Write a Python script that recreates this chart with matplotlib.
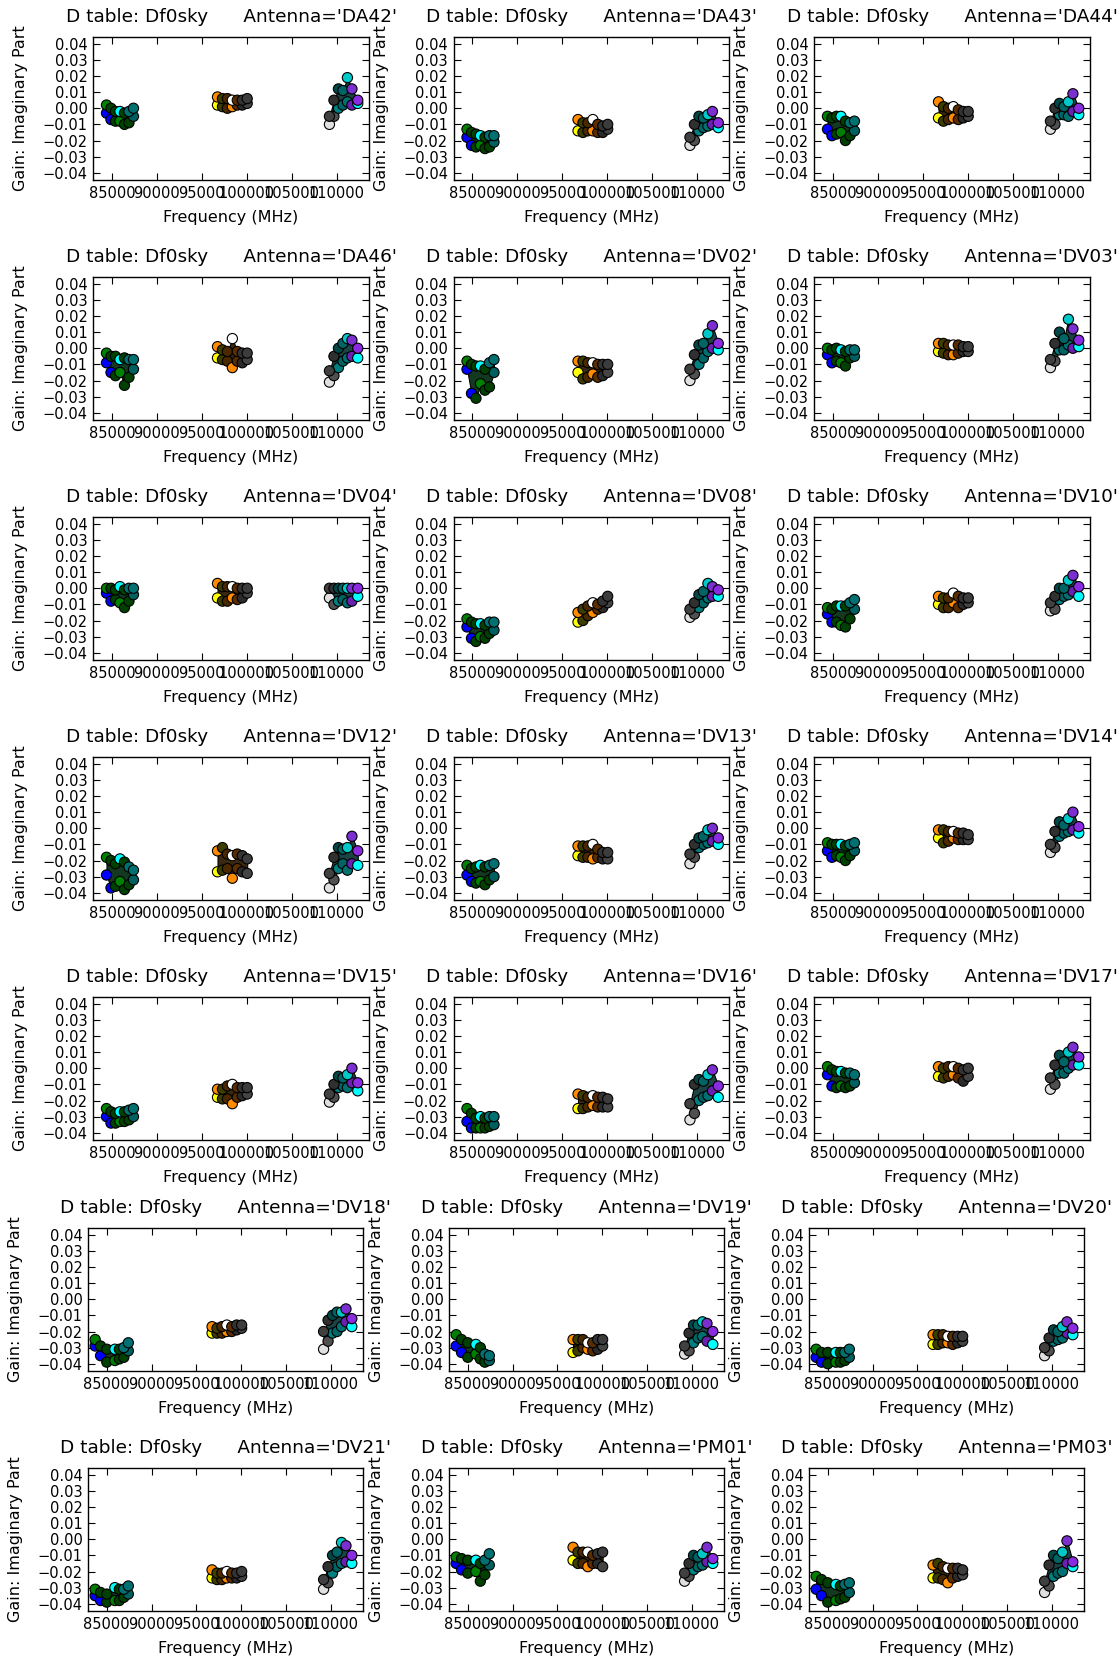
import matplotlib
matplotlib.use("Agg")
import matplotlib.pyplot as plt
from matplotlib.ticker import FuncFormatter

ANTENNAS = ["DA42", "DA43", "DA44", "DA46", "DV02", "DV03", "DV04",
            "DV08", "DV10", "DV12", "DV13", "DV14", "DV15", "DV16",
            "DV17", "DV18", "DV19", "DV20", "DV21", "PM01", "PM03"]

# channel groups (MHz) of the three frequency clusters
FREQ_A = [84400, 84900, 85400, 85900, 86400, 86900, 87400]
FREQ_A_LATE = [83700, 84300, 85000, 85900, 86400, 86900, 87400]
FREQ_B = [96750, 97300, 97850, 98400, 98950, 99500, 100050]
FREQ_C = [109200, 109700, 110200, 110700, 111200, 111700, 112350]

# imaginary part (units of 1e-3): upper and lower edge of each cluster
A_HI = [[2, 0, -2, -2, -3, -2, 0], [-13, -15, -16, -17, -18, -17, -17],
        [-5, -6, -5, -5, -8, -9, -8], [-3, -5, -5, -7, -6, -7, -7],
        [-8, -10, -11, -11, -13, -9, -7], [0, -1, 0, -1, -2, -1, -1],
        [0, 0, -1, 1, -1, 0, 0], [-19, -21, -22, -22, -23, -21, -21],
        [-12, -13, -11, -11, -11, -9, -7], [-18, -20, -22, -19, -21, -24, -26],
        [-23, -25, -24, -23, -24, -23, -22], [-9, -10, -10, -10, -11, -10, -9],
        [-25, -27, -28, -27, -27, -26, -25], [-25, -28, -31, -30, -31, -30, -30],
        [1, -1, -2, -2, -3, -3, -4], [-25, -29, -31, -31, -31, -30, -27],
        [-22, -25, -27, -28, -30, -34, -35], [-31, -33, -33, -33, -33, -33, -31],
        [-31, -33, -34, -30, -31, -31, -29], [-11, -12, -13, -13, -15, -13, -9],
        [-23, -25, -27, -28, -29, -28, -27]]
A_LO = [[-3, -7, -8, -8, -10, -9, -5], [-18, -23, -24, -23, -25, -24, -21],
        [-13, -17, -16, -15, -20, -17, -14], [-9, -15, -17, -15, -23, -18, -13],
        [-13, -28, -31, -22, -26, -24, -15], [-4, -9, -8, -9, -11, -6, -5],
        [-3, -8, -7, -9, -12, -8, -4], [-24, -31, -33, -30, -31, -28, -26],
        [-16, -21, -21, -23, -24, -19, -13], [-29, -37, -36, -33, -38, -35, -32],
        [-29, -33, -34, -33, -35, -32, -30], [-14, -18, -17, -18, -20, -17, -14],
        [-30, -34, -34, -33, -33, -32, -30], [-33, -37, -37, -37, -37, -36, -35],
        [-4, -11, -12, -11, -12, -11, -9], [-29, -35, -39, -38, -37, -36, -32],
        [-29, -33, -36, -34, -37, -39, -38], [-36, -39, -40, -39, -39, -38, -36],
        [-35, -38, -39, -38, -38, -36, -34], [-15, -19, -21, -20, -26, -22, -16],
        [-31, -35, -39, -38, -37, -36, -33]]
B_HI = [[7, 6, 6, 5, 5, 5, 6], [-7, -9, -9, -7, -10, -11, -10],
        [4, 1, 0, 1, -1, -2, -2], [1, -1, -2, 6, -2, -3, -3],
        [-8, -8, -9, -9, -10, -10, -10], [3, 3, 2, 2, 2, 1, 1],
        [3, 1, 1, 1, 0, 0, 0], [-15, -13, -11, -9, -10, -8, -5],
        [-5, -6, -6, -3, -5, -6, -6], [-14, -12, -16, -17, -16, -17, -19],
        [-11, -11, -11, -10, -13, -15, -15], [-1, -1, -2, -2, -3, -3, -4],
        [-13, -13, -11, -10, -12, -12, -12], [-16, -17, -18, -17, -18, -18, -19],
        [1, 0, 1, 1, 0, -1, 0], [-17, -18, -17, -16, -17, -16, -16],
        [-25, -25, -25, -27, -27, -25, -25], [-22, -22, -22, -23, -23, -23, -23],
        [-19, -21, -21, -20, -21, -21, -20], [-5, -8, -8, -8, -10, -9, -8],
        [-16, -15, -17, -18, -18, -18, -19]]
B_LO = [[2, 1, 0, 1, 2, 2, 3], [-14, -15, -14, -14, -15, -15, -13],
        [-6, -8, -7, -6, -7, -6, -5], [-6, -7, -8, -12, -8, -9, -7],
        [-15, -19, -18, -16, -18, -17, -15], [-2, -3, -4, -4, -3, -2, -2],
        [-6, -8, -8, -6, -7, -6, -3], [-21, -20, -17, -15, -13, -12, -9],
        [-10, -12, -12, -9, -12, -10, -9], [-27, -26, -25, -31, -25, -27, -28],
        [-17, -18, -18, -19, -18, -19, -19], [-6, -9, -8, -6, -7, -7, -7],
        [-18, -19, -19, -22, -18, -17, -16], [-25, -25, -24, -23, -24, -24, -24],
        [-5, -6, -5, -4, -6, -8, -5], [-21, -21, -21, -20, -20, -19, -18],
        [-33, -32, -30, -31, -32, -31, -29], [-28, -28, -27, -27, -28, -27, -26],
        [-24, -25, -25, -24, -24, -24, -23], [-13, -15, -15, -17, -15, -15, -17],
        [-24, -24, -25, -27, -24, -23, -22]]
C_HI = [[-5, 5, 12, 11, 19, 12, 5], [-18, -10, -5, -6, -4, -2, -9],
        [-8, 0, 3, 1, 4, 9, 0], [-14, -5, 0, 3, 6, 5, 0],
        [-13, -4, 2, 3, 9, 14, 3], [-7, 3, 10, 6, 18, 12, 5],
        [0, 0, 0, 0, 0, 0, 0], [-13, -9, -4, -2, 3, 1, -1],
        [-9, -5, 0, 0, 5, 8, 1], [-28, -18, -12, -13, -12, -5, -14],
        [-16, -10, -6, -5, -1, 0, -6], [-10, -2, 4, 2, 6, 10, 1],
        [-16, -10, -5, -6, -4, 0, -9], [-22, -10, -7, -8, -4, -1, -11],
        [-6, 2, 8, 4, 10, 13, 7], [-20, -13, -10, -8, -8, -6, -12],
        [-29, -21, -16, -16, -14, -15, -20], [-30, -24, -19, -20, -17, -14, -18],
        [-25, -17, -10, -8, -2, -4, -10], [-21, -15, -10, -11, -9, -5, -12],
        [-26, -16, -10, -12, -8, -1, -14]]
C_LO = [[-10, -5, 0, 2, 4, 2, 3], [-23, -20, -14, -12, -11, -10, -12],
        [-13, -10, -4, -4, -5, -2, -4], [-21, -17, -12, -8, -6, -5, -6],
        [-20, -16, -10, -6, -2, 0, -1], [-12, -8, -1, -1, 2, 0, 1],
        [-6, -10, -8, -7, -9, -8, -5], [-18, -16, -12, -9, -6, -5, -5],
        [-14, -13, -7, -5, -4, -2, -5], [-37, -32, -25, -22, -26, -22, -23],
        [-22, -18, -12, -10, -9, -8, -10], [-15, -12, -5, -3, -2, -1, -3],
        [-21, -18, -12, -11, -12, -9, -14], [-32, -28, -20, -18, -17, -14, -18],
        [-13, -10, -3, -3, 0, 2, 2], [-31, -26, -21, -20, -17, -14, -17],
        [-34, -32, -27, -24, -23, -26, -28], [-35, -32, -26, -25, -24, -21, -22],
        [-31, -27, -21, -17, -15, -14, -15], [-26, -23, -19, -17, -16, -14, -15],
        [-33, -29, -23, -21, -20, -15, -17]]

# marker colours per channel group
A_HI_COLORS = ["#008000", "#004000", "#004000", "#00ffff", "#004000", "#007070", "#007070"]
A_LO_COLORS = ["#0000ff", "#0000ff", "#004000", "#008000", "#004000", "#004000", "#006060"]
B_HI_COLORS = ["#ff8c00", "#3d3d00", "#4a2800", "#ffffff", "#5a2d00", "#333333", "#3c3c3c"]
B_LO_COLORS = ["#ffff00", "#3d3d00", "#4a2800", "#ff8c00", "#5a2d00", "#2b2b2b", "#444444"]
C_HI_COLORS = ["#404040", "#303030", "#004848", "#006464", "#00c8c8", "#7b2fd0", "#8a2be2"]
C_LO_COLORS = ["#e0e0e0", "#505050", "#008080", "#006464", "#007070", "#6a20b0", "#00ffff"]
FILL_COLORS = ["#143820", "#3b2810", "#1c4444"]

X_TICKS = [85000, 90000, 95000, 100000, 105000, 110000]
Y_TICKS = [-0.04, -0.03, -0.02, -0.01, 0.0, 0.01, 0.02, 0.03, 0.04]


def y_fmt(v, pos):
    if abs(v) < 1e-9:
        return "0.00"
    return ("%.2f" % v).replace("-", "\u2212")


def draw_plot():
    W, H = 1117, 1661
    fig = plt.figure(figsize=(W / 100, H / 100), dpi=100)
    fig.patch.set_facecolor("white")

    row_top = [37, 277, 517, 757, 997, 1228, 1468]
    col_left = [93, 453.5, 814]
    col_left_late = [88, 449, 809]

    for i, ant in enumerate(ANTENNAS):
        row, col = divmod(i, 3)
        late = row >= 5
        left = (col_left_late if late else col_left)[col]
        width = 275 if late else 276
        height = 143
        ax = fig.add_axes([left / W, 1 - (row_top[row] + height) / H, width / W, height / H])

        freq_a = FREQ_A_LATE if late else FREQ_A
        groups = [
            (freq_a, A_HI[i], A_LO[i], A_HI_COLORS, A_LO_COLORS, FILL_COLORS[0]),
            (FREQ_B, B_HI[i], B_LO[i], B_HI_COLORS, B_LO_COLORS, FILL_COLORS[1]),
            (FREQ_C, C_HI[i], C_LO[i], C_HI_COLORS, C_LO_COLORS, FILL_COLORS[2]),
        ]
        for freq, hi, lo, hi_col, lo_col, fill in groups:
            hi_v = [v * 1e-3 for v in hi]
            lo_v = [v * 1e-3 for v in lo]
            ax.fill_between(freq, lo_v, hi_v, facecolor=fill, edgecolor="black",
                            linewidth=0.8, zorder=2)
            ax.scatter(freq, lo_v, s=54, c=lo_col, edgecolors="black",
                       linewidths=0.8, zorder=3)
            ax.scatter(freq, hi_v, s=54, c=hi_col, edgecolors="black",
                       linewidths=0.8, zorder=4)

        ax.set_xlim(82900, 113600)
        ax.set_ylim(-0.0445, 0.0442)
        ax.set_xticks(X_TICKS)
        ax.set_xticklabels([str(t) for t in X_TICKS])
        ax.set_yticks(Y_TICKS)
        ax.yaxis.set_major_formatter(FuncFormatter(y_fmt))
        ax.tick_params(direction="in", length=5, width=0.8, top=True, right=True,
                       labelsize=10.5, pad=4)
        for sp in ax.spines.values():
            sp.set_linewidth(1.0)

        ax.set_title("D table: Df0sky      Antenna='%s'" % ant, fontsize=13.3, pad=10.5)
        ax.set_xlabel("Frequency (MHz)", fontsize=11.5, labelpad=7)
        ax.set_ylabel("Gain: Imaginary Part", fontsize=11.5, labelpad=10)

    fig.savefig("out.png", dpi=100, facecolor="white")


if __name__ == "__main__":
    draw_plot()
